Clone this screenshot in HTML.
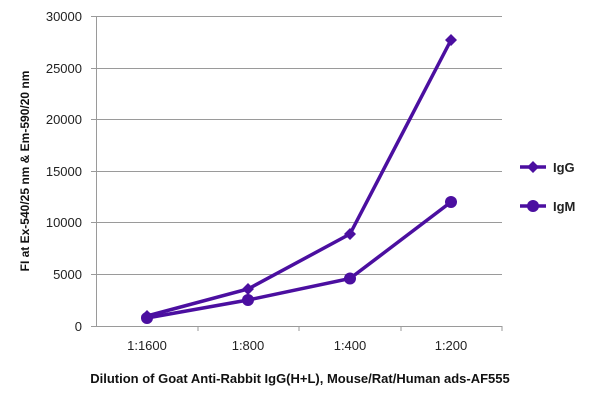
<!DOCTYPE html>
<html><head><style>body{margin:0;background:#fff}</style></head><body>
<svg width="600" height="403" xmlns="http://www.w3.org/2000/svg" font-family="Liberation Sans, sans-serif">
<g stroke="#9a9a9a" stroke-width="1">
<line x1="91" y1="16.5" x2="502" y2="16.5"/><line x1="91" y1="68.5" x2="502" y2="68.5"/>
<line x1="91" y1="119.5" x2="502" y2="119.5"/><line x1="91" y1="171.5" x2="502" y2="171.5"/>
<line x1="91" y1="222.5" x2="502" y2="222.5"/><line x1="91" y1="274.5" x2="502" y2="274.5"/>
<line x1="91" y1="326.5" x2="502" y2="326.5"/><line x1="96.5" y1="16" x2="96.5" y2="326"/>
<line x1="198" y1="326" x2="198" y2="331"/><line x1="299" y1="326" x2="299" y2="331"/><line x1="401" y1="326" x2="401" y2="331"/><line x1="502" y1="326" x2="502" y2="331"/>
</g>
<g font-size="13" fill="#222" text-anchor="end">
<text x="82" y="21">30000</text><text x="82" y="73">25000</text><text x="82" y="124">20000</text>
<text x="82" y="176">15000</text><text x="82" y="227">10000</text><text x="82" y="279">5000</text><text x="82" y="331">0</text>
</g>
<g font-size="13" fill="#222" text-anchor="middle">
<text x="147" y="350">1:1600</text><text x="248" y="350">1:800</text><text x="350" y="350">1:400</text><text x="451" y="350">1:200</text>
</g>
<text x="300" y="383" font-size="13" font-weight="bold" text-anchor="middle" fill="#111">Dilution of Goat Anti-Rabbit IgG(H+L), Mouse/Rat/Human ads-AF555</text>
<text transform="translate(29,171) rotate(-90)" font-size="12" font-weight="bold" text-anchor="middle" fill="#111">FI at Ex-540/25 nm &amp; Em-590/20 nm</text>
<g stroke="#4b0fa0" stroke-width="3.5" fill="none">
<polyline points="147,316 248,289 350,234 451,40"/>
<polyline points="147,318 248,300 350,278.5 451,202"/>
<line x1="520" y1="167" x2="546" y2="167"/><line x1="520" y1="206" x2="546" y2="206"/>
</g>
<g fill="#4b0fa0">
<path d="M147,310 l6,6 l-6,6 l-6,-6z M248,283 l6,6 l-6,6 l-6,-6z M350,228 l6,6 l-6,6 l-6,-6z M451,34 l6,6 l-6,6 l-6,-6z M533,161 l6,6 l-6,6 l-6,-6z"/>
<circle cx="147" cy="318" r="6"/><circle cx="248" cy="300" r="6"/><circle cx="350" cy="278.5" r="6"/><circle cx="451" cy="202" r="6"/><circle cx="533" cy="206" r="6"/>
</g>
<g font-size="13" font-weight="bold" fill="#222">
<text x="553" y="172">IgG</text><text x="553" y="211">IgM</text>
</g>
</svg>
</body></html>
